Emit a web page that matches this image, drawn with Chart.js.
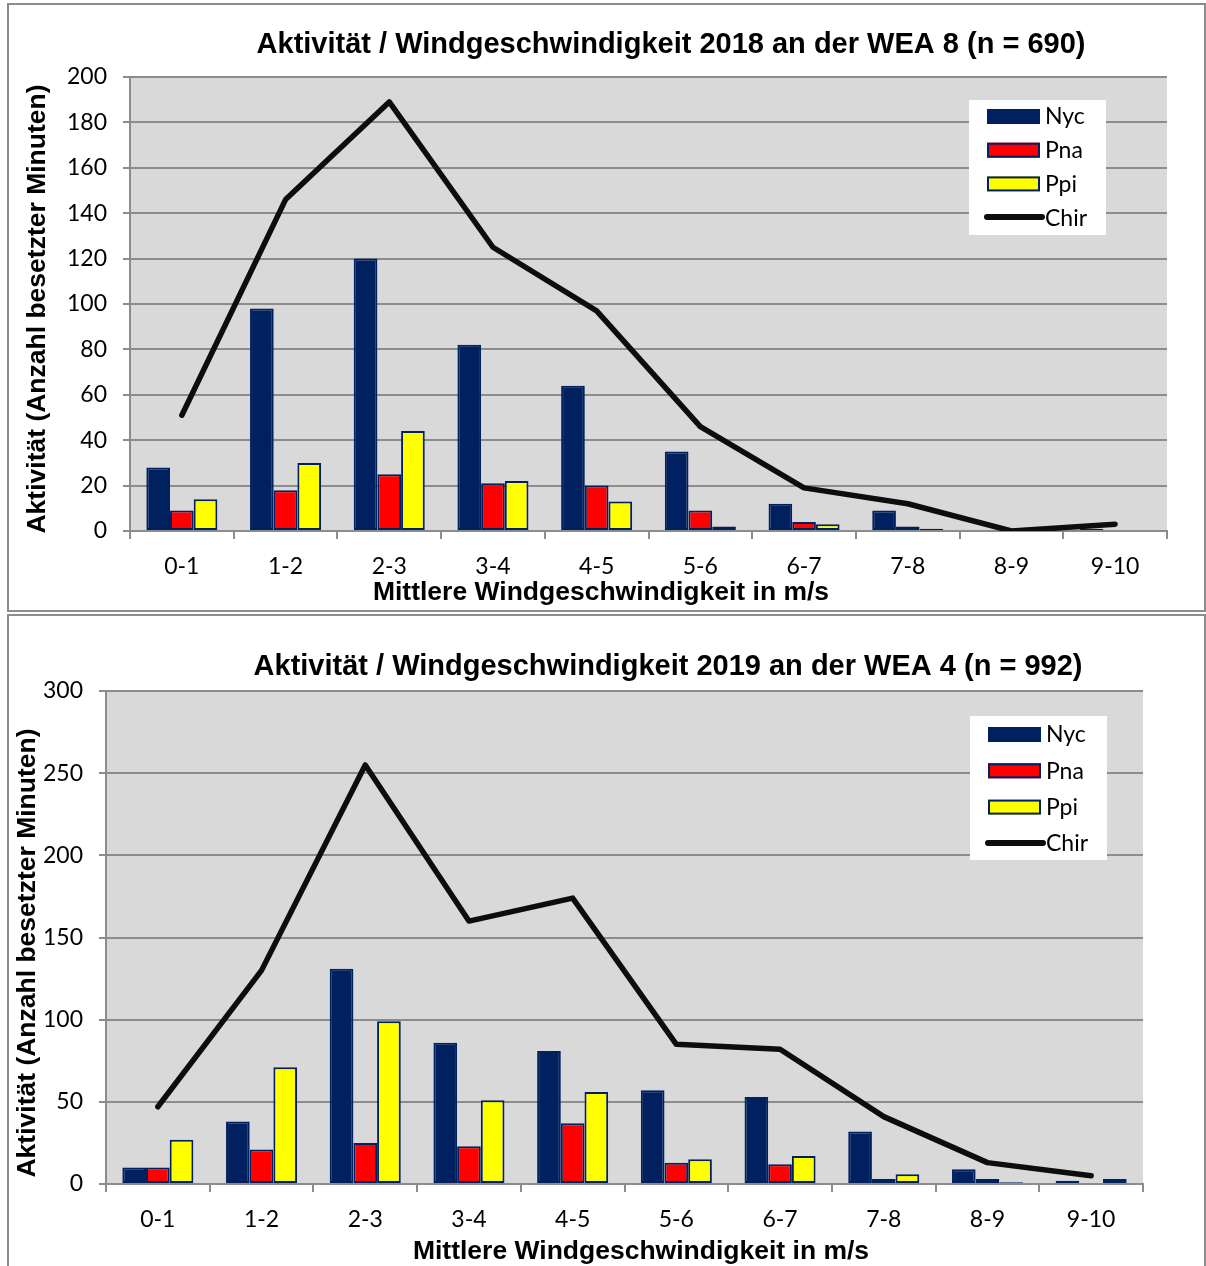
<!DOCTYPE html>
<html>
<head>
<meta charset="utf-8">
<script src="https://cdn.jsdelivr.net/npm/chart.js@4.4.1/dist/chart.umd.min.js"></script>
<style>
  body { margin: 0; background: #fff; }
  .frame { position: absolute; border: 2px solid #8c8c8c; box-sizing: border-box; }
  canvas { position: absolute; }
</style>
</head>
<body>
<div class="frame" style="left:7px;top:3px;width:1199px;height:609px"></div>
<div class="frame" style="left:7px;top:614px;width:1199px;height:660px"></div>
<canvas id="chart2018" style="left:10px;top:7px;width:1190px;height:601px" width="1190" height="601"></canvas>
<canvas id="chart2019" style="left:10px;top:618px;width:1190px;height:648px" width="1190" height="648"></canvas>
<script>
// === Daten ===
const categories = ['0-1', '1-2', '2-3', '3-4', '4-5', '5-6', '6-7', '7-8', '8-9', '9-10'];

// WEA 8, 2018
const nyc2018  = [28, 98, 120, 82, 64, 35, 12, 9, 0, 1];
const pna2018  = [9, 18, 25, 21, 20, 9, 4, 2, 0, 0];
const ppi2018  = [14, 30, 44, 22, 13, 2, 3, 1, 0, 0];
const chir2018 = [51, 146, 189, 125, 97, 46, 19, 12, 0, 3];
const yTicks2018 = [0, 20, 40, 60, 80, 100, 120, 140, 160, 180, 200];

// WEA 4, 2019
const nyc2019  = [10, 38, 131, 86, 81, 57, 53, 32, 9, 2];
const pna2019  = [10, 21, 25, 23, 37, 13, 12, 3, 3, 0];
const ppi2019  = [27, 71, 99, 51, 56, 15, 17, 6, 1, 3];
const chir2019 = [47, 130, 255, 160, 174, 85, 82, 41, 13, 5];
const yTicks2019 = [0, 50, 100, 150, 200, 250, 300];

const seriesNames = ['Nyc', 'Pna', 'Ppi', 'Chir'];

const NAVY = '#002060';
const GRID = '#8c8c8c';
const TICK_FONT = { family: 'Lato, "Noto Sans", sans-serif', size: 23 };
const BOLD = '"Liberation Sans", Arial, sans-serif';

// Hintergrund, Titel und Legende
const decor = {
  id: 'decor',
  beforeDraw(chart) {
    const { ctx, chartArea: a } = chart;
    ctx.save();
    ctx.fillStyle = '#d9d9d9';
    ctx.fillRect(a.left, a.top, a.right - a.left, a.bottom - a.top);
    ctx.restore();
  },
  afterDraw(chart, args, o) {
    const ctx = chart.ctx;
    ctx.save();
    ctx.fillStyle = '#000';
    ctx.textAlign = 'center';
    ctx.textBaseline = 'middle';
    ctx.font = 'bold 29px ' + BOLD;
    ctx.fillText(o.title, o.titleX, o.titleY);
    ctx.font = 'bold 26.5px ' + BOLD;
    ctx.fillText('Mittlere Windgeschwindigkeit in m/s', o.xTitleX, o.xTitleY);
    ctx.save();
    ctx.translate(o.yTitleX, o.yTitleY);
    ctx.rotate(-Math.PI / 2);
    ctx.fillText('Aktivität (Anzahl besetzter Minuten)', 0, 0);
    ctx.restore();

    // Legende
    const L = o.legend;
    ctx.fillStyle = '#fff';
    ctx.fillRect(L.x, L.y, L.w, L.h);
    ctx.font = '23px ' + TICK_FONT.family;
    ctx.textAlign = 'left';
    chart.data.datasets.forEach((ds, i) => {
      const cy = L.y + L.first + i * L.step;
      const sx = L.x + 18;
      if (ds.type === 'line') {
        ctx.strokeStyle = ds.borderColor;
        ctx.lineWidth = 6;
        ctx.lineCap = 'round';
        ctx.beginPath();
        ctx.moveTo(sx, cy);
        ctx.lineTo(sx + 55, cy);
        ctx.stroke();
      } else {
        ctx.fillStyle = ds.backgroundColor;
        ctx.fillRect(sx, cy - 7, 53, 15);
        ctx.strokeStyle = NAVY;
        ctx.lineWidth = 2;
        ctx.strokeRect(sx + 1, cy - 6, 51, 13);
      }
      ctx.fillStyle = '#000';
      ctx.fillText(ds.label, L.x + 76, cy + 1);
    });
    ctx.restore();
  }
};

function makeChart(id, nyc, pna, ppi, chir, yTicks, look) {
  const barStyle = { borderColor: NAVY, borderWidth: 2, borderSkipped: false, order: 1 };
  new Chart(document.getElementById(id), {
    type: 'bar',
    data: {
      labels: categories,
      datasets: [
        { label: seriesNames[0], data: nyc, backgroundColor: NAVY, ...barStyle },
        { label: seriesNames[1], data: pna, backgroundColor: '#ff0000', ...barStyle },
        { label: seriesNames[2], data: ppi, backgroundColor: '#ffff00', ...barStyle },
        {
          type: 'line', label: seriesNames[3], data: chir,
          borderColor: '#0d0d0d', borderWidth: 5.5, pointRadius: 0,
          borderCapStyle: 'round', borderJoinStyle: 'round', tension: 0, order: 0
        }
      ]
    },
    options: {
      responsive: false,
      animation: false,
      layout: { padding: { top: look.top, right: look.right, left: 0, bottom: 0 } },
      datasets: { bar: { barPercentage: 1, categoryPercentage: 0.685 } },
      scales: {
        x: {
          afterFit: (s) => { s.height = look.xHeight; },
          grid: { offset: true, drawOnChartArea: false, color: GRID, lineWidth: 2, tickLength: 8 },
          border: { color: GRID, width: 2 },
          ticks: { color: '#000', font: TICK_FONT, padding: 14, maxRotation: 0 }
        },
        y: {
          min: 0,
          max: yTicks[yTicks.length - 1],
          afterFit: (s) => { s.width = look.yWidth; },
          afterBuildTicks: (s) => { s.ticks = yTicks.map(v => ({ value: v })); },
          grid: { color: GRID, lineWidth: 2, tickLength: 7 },
          border: { color: GRID, width: 2 },
          ticks: { color: '#000', font: TICK_FONT, padding: 16 }
        }
      },
      plugins: {
        legend: { display: false },
        tooltip: { enabled: false },
        decor: look.decor
      }
    },
    plugins: [decor]
  });
}

makeChart('chart2018', nyc2018, pna2018, ppi2018, chir2018, yTicks2018, {
  top: 70, right: 33, xHeight: 77, yWidth: 120,
  decor: {
    title: 'Aktivität / Windgeschwindigkeit 2018 an der WEA 8 (n = 690)',
    titleX: 661, titleY: 38,
    xTitleX: 591, xTitleY: 586,
    yTitleX: 28, yTitleY: 302,
    legend: { x: 959, y: 93, w: 137, h: 135, first: 16, step: 33.7 }
  }
});

makeChart('chart2019', nyc2019, pna2019, ppi2019, chir2019, yTicks2019, {
  top: 73, right: 57, xHeight: 82, yWidth: 96,
  decor: {
    title: 'Aktivität / Windgeschwindigkeit 2019 an der WEA 4 (n = 992)',
    titleX: 658, titleY: 49,
    xTitleX: 631, xTitleY: 634,
    yTitleX: 18, yTitleY: 335,
    legend: { x: 960, y: 98, w: 137, h: 144, first: 18, step: 36.3 }
  }
});
</script>
</body>
</html>
